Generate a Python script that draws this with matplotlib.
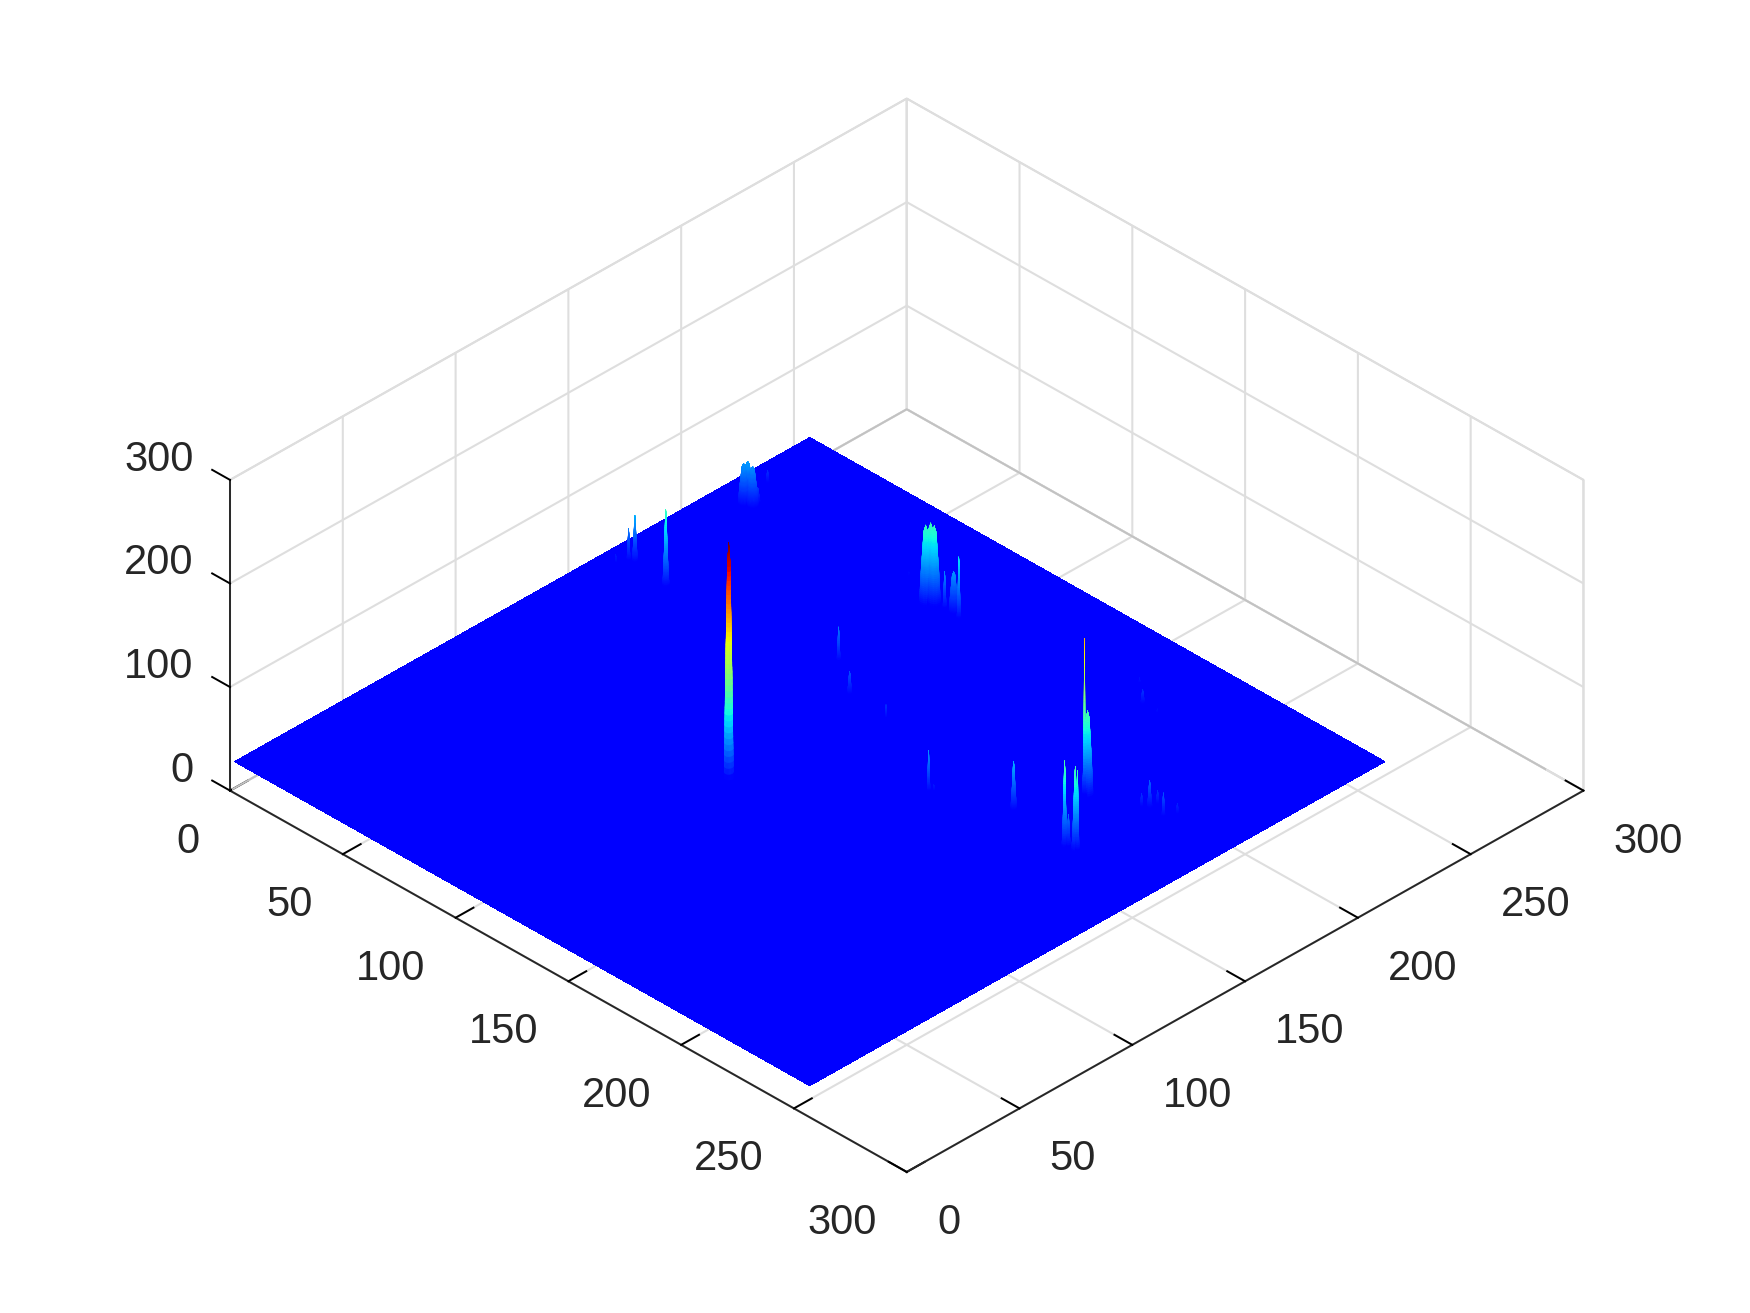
import numpy as np
import matplotlib
matplotlib.use('Agg')
import matplotlib.pyplot as plt

plt.rcParams['font.family'] = ['Liberation Sans', 'DejaVu Sans']

# ---------- data ----------
img_size = 256
base_level = 28
clim = (0, 255)
ticks_xy = [0, 50, 100, 150, 200, 250, 300]
ticks_z = [0, 100, 200, 300]

# peaks on the surface: position, top value, footprint radius (data units)
peak_x = [116.9, 28.7, 12.4, 10.6, 9.0, 13.6, 14.5, 16.4, 16.7, 11.0, 92.9, 94.0, 95.1,
          99.6, 102.8, 106.7, 79.0, 203.6, 204.3, 219.7, 220.6, 223.5, 224.0, 172.4,
          181.0, 188.2, 196.9, 206.9, 221.4, 223.2, 223.8, 229.8, 232.1, 96.6, 112.1,
          130.0, 167.9, 169.4, 193.9, 160.5]
peak_y = [104.2, 164.5, 167.1, 166.1, 162.0, 214.1, 215.0, 215.3, 217.2, 227.3, 215.5, 216.6, 217.1,
          217.2, 218.0, 216.4, 221.9, 175.2, 175.9, 150.3, 151.1, 151.2, 151.7, 230.8,
          223.6, 222.9, 225.3, 235.3, 182.7, 184.5, 187.4, 184.0, 187.9, 173.2, 162.6,
          160.8, 141.8, 142.6, 153.5, 161.3]
peak_z = [255, 105, 76, 62, 40, 70, 72, 69, 47, 44, 106, 108, 106,
          67, 70, 91, 36, 182, 112, 114, 62, 112, 108, 38,
          45, 37, 34, 33, 45, 57, 45, 54, 42, 64, 53,
          45, 71, 39, 78, 34]
peak_r = [1.5, 1.3, 1.15, 0.8, 0.6, 1.9, 2.1, 2.0, 1.4, 0.9, 2.1, 2.3, 2.1,
          0.8, 1.6, 0.8, 0.6, 0.5, 1.8, 1.05, 0.9, 1.4, 0.7, 0.6,
          1.15, 0.6, 0.6, 0.6, 0.8, 1.15, 0.8, 0.8, 0.8, 0.8, 1.15,
          0.6, 0.7, 0.6, 1.3, 0.6]
# height of a peak against distance from its centre, as fractions
# narrow peaks come to a point, the broad ones are rounded
profile_r = [0, 0.15, 0.4, 0.7, 1]
profile_z = [1, 0.9, 0.5, 0.15, 0]
dome_r = [0, 0.3, 0.7, 1]
dome_z = [1, 0.92, 0.45, 0]

# ---------- figure ----------
fig = plt.figure(figsize=(17.5, 13.13), dpi=100)
ax = fig.add_axes([14/1750, 3.5/1313, 1, 1], projection='3d', proj_type='ortho')
ax.view_init(elev=34.3, azim=-45)
ax.set_box_aspect((1, 1, 0.393), zoom=1.0386)
ax.computed_zorder = False

ax.set_xlim(0, 300)
ax.set_ylim(0, 300)
ax.set_zlim(0, 300)
ax.set_xticks(ticks_xy)
ax.set_yticks(ticks_xy)
ax.set_zticks(ticks_z)

text_col = '#262626'
for a in (ax.xaxis, ax.yaxis, ax.zaxis):
    a.set_pane_color((1, 1, 1, 1))
    a.pane.set_edgecolor('#d4d4d4')
    a.pane.set_linewidth(1.3)
    a.line.set_color('#262626')
    a.line.set_linewidth(1.4)
    a._axinfo['grid'].update(color='#dedede', linewidth=1.5)
    a._axinfo['tick'].update(inward_factor=0, outward_factor=0.33)
    a._axinfo['tick']['color'] = '#262626'
    a._axinfo['tick']['linewidth'] = {True: 1.4, False: 1.0}
ax.zaxis._axinfo['juggled'] = (1, 2, 0)
ax.tick_params(axis='both', labelsize=30, labelcolor=text_col, pad=14)
ax.tick_params(axis='z', pad=5.3)

ax.set_xticklabels([str(t) for t in ticks_xy], ha='right', va='top')
ax.set_yticklabels([str(t) for t in ticks_xy], ha='left', va='top')
ax.set_zticklabels([str(t) for t in ticks_z], ha='right', va='bottom')

# back edges of the floor are darker than the grid
ax.plot([0, 0, 300], [0, 300, 300], [0, 0, 0], color='#c2c2c2', lw=1.4, zorder=1)

norm = plt.Normalize(*clim)
cmap = plt.get_cmap('jet')

# flat part of the surface
px = np.linspace(1, img_size, 9)
PX, PY = np.meshgrid(px, px)
PZ = np.full(PX.shape, float(base_level))
ax.plot_surface(PX, PY, PZ, color=cmap(norm(base_level)), shade=False, rstride=1, cstride=1,
                linewidth=0, antialiased=False, zorder=5)

# peaks, far ones first
order = np.argsort(np.array(peak_x) - np.array(peak_y))
theta = np.linspace(0, 2*np.pi, 25)
frac = np.linspace(0, 1, 61)
for n, i in enumerate(order):
    R, T = np.meshgrid(frac, theta)
    X = peak_x[i] + peak_r[i]*R*np.cos(T)
    Y = peak_y[i] + peak_r[i]*R*np.sin(T)
    if peak_r[i] >= 1.5:
        shape = np.interp(R, dome_r, dome_z)
    else:
        shape = np.interp(R, profile_r, profile_z)
    Z = base_level + (peak_z[i] - base_level)*shape
    ax.plot_surface(X, Y, Z, facecolors=cmap(norm(Z)), rstride=1, cstride=1, shade=False,
                    linewidth=0.15, antialiased=True, zorder=10+n)

fig.savefig('out.png', dpi=100)
